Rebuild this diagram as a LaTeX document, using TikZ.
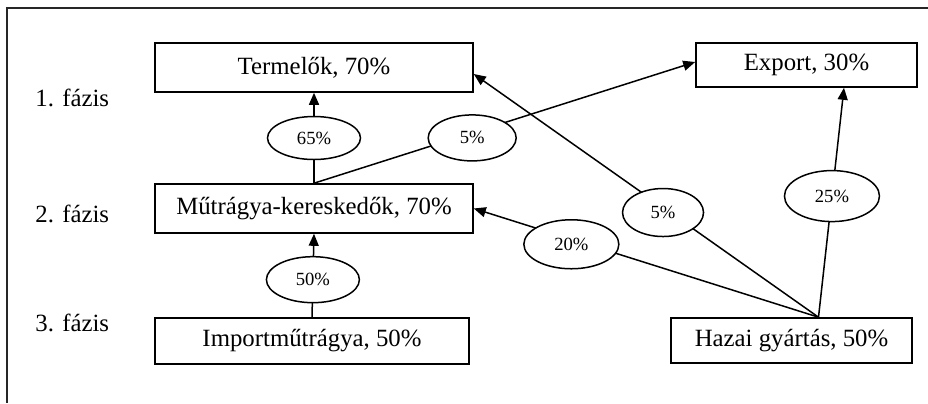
\documentclass[tikz,border=0pt]{standalone}
\usepackage{fontspec}
\setmainfont{Liberation Serif}
\usetikzlibrary{arrows.meta,shapes.geometric,calc}
\begin{document}
\begin{tikzpicture}[x=0.5pt,y=-0.5pt,
  box/.style={draw,line width=0.8pt,inner sep=0pt,font=\fontsize{12.4}{14}\selectfont},
  phase/.style={anchor=west,inner sep=0pt,font=\fontsize{12.4}{14}\selectfont},
  pct/.style={draw,ellipse,fill=white,inner sep=0pt,line width=0.75pt,minimum width=46.5pt,minimum height=23pt,font=\fontsize{9.3}{11}\selectfont},
  flow/.style={line width=0.75pt},
  arr/.style={flow,-{Triangle[length=6pt,width=5pt]}}]
\useasboundingbox (0,0) rectangle (928,403);
\draw[line width=0.8pt,black!85] (928,8) -- (7,8) -- (7,403);

\node[phase] (p1) at (35,97.5) {1. fázis};
\node[phase] (p2) at (35,213.5) {2. fázis};
\node[phase] (p3) at (35,323) {3. fázis};

\node[box,minimum width=159pt,minimum height=24.5pt] (term) at (314,67.5) {Termelők, 70\%};
\node[box,minimum width=159pt,minimum height=24.5pt] (mk) at (314,208.5) {Műtrágya-kereskedők, 70\%};
\node[box,minimum width=157pt,minimum height=23pt] (imp) at (312,341) {Importműtrágya, 50\%};
\node[box,minimum width=110.5pt,minimum height=22pt] (export) at (806.5,65) {Export, 30\%};
\node[box,minimum width=120.5pt,minimum height=22.5pt] (hazai) at (791.5,340.5) {Hazai gyártás, 50\%};

\coordinate (hz) at ($(hazai.north)+(27,0)$);

\draw[arr] (mk.north) -- node[pct,minimum height=21.5pt] {65\%} (term.south);
\draw[arr] (imp.north) -- node[pct,pos=0.45] {50\%} (mk.south);
\draw[arr] (mk.north) -- node[pct,pos=0.415,yshift=-2.5pt,minimum width=44pt] {5\%} ($(export.west)+(0,-3)$);
\draw[arr] (hz) -- node[pct,pos=0.717,yshift=-2.5pt,minimum width=47.5pt,minimum height=24.5pt] {20\%} (mk.east);
\draw[arr] (hz) -- node[pct,pos=0.451,yshift=-2.5pt,minimum width=40.5pt,minimum height=24pt] {5\%} ($(term.east)+(0,6.5)$);
\draw[arr] (hz) -- node[pct,pos=0.528,minimum width=47.5pt,minimum height=25.5pt] {25\%} ($(export.south)+(37.5,0)$);
\end{tikzpicture}
\end{document}
